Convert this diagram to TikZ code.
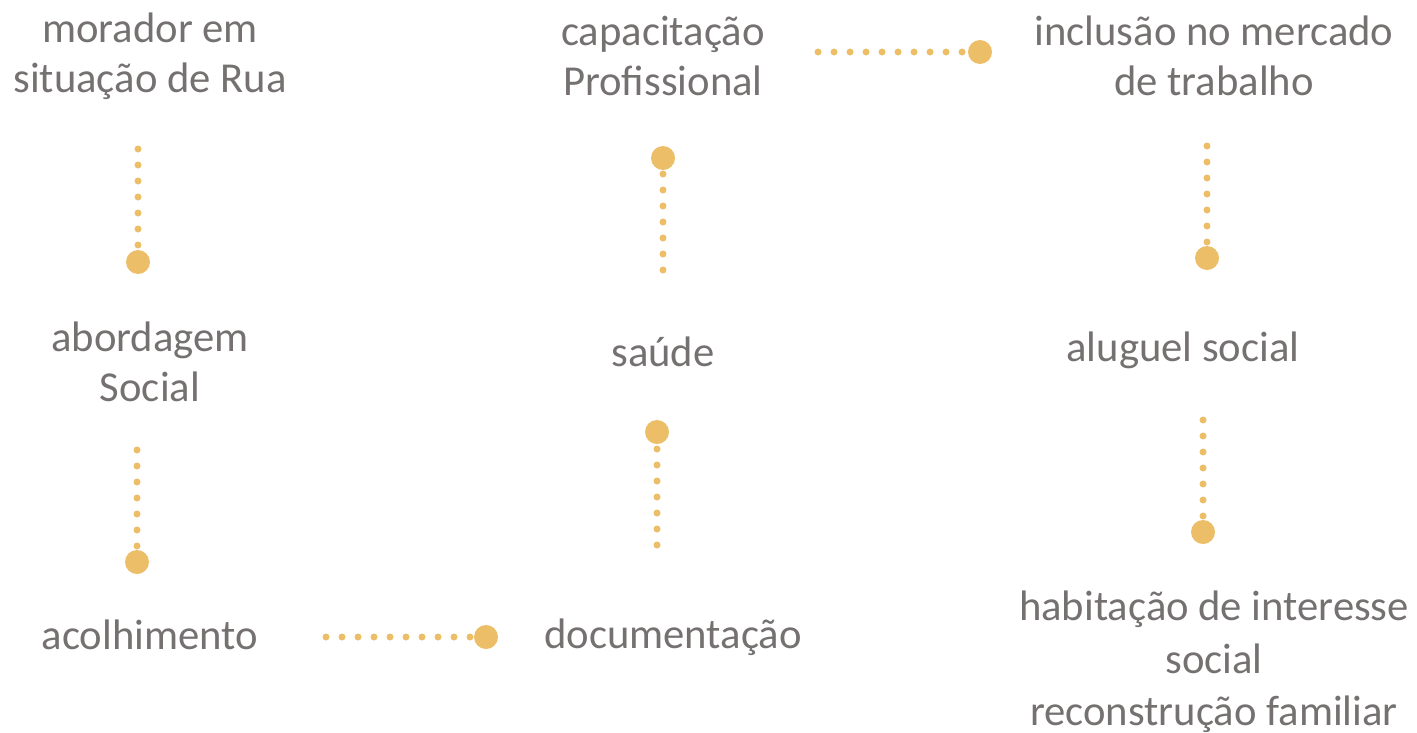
\documentclass[tikz,border=0pt]{standalone}
\usepackage{fontspec}
\setmainfont{Carlito}
\definecolor{txtgray}{RGB}{118,113,113}
\definecolor{gold}{RGB}{236,190,104}
\begin{document}
\begin{tikzpicture}[x=0.75pt, y=-0.75pt,
  label/.style={text=txtgray, align=center, font=\fontsize{32}{37.5}\selectfont, inner sep=0pt},
  bigdot/.style={circle, fill=gold, minimum size=18pt, inner sep=0pt},
  dotline/.style={gold, line width=5.25pt, line cap=round, dash pattern=on 0pt off 12pt}]
\useasboundingbox (0,0) rectangle (1417,732);
\node[label] (morador) at (150,56) {morador em\\situação de Rua};
\node[label] (capac) at (663,56) {capacitação\\Profissional};
\node[label] (inclusao) at (1214,56) {inclusão no mercado\\de trabalho};
\node[label] (abord) at (150,362) {abordagem\\Social};
\node[label] (saude) at (663,352) {saúde};
\node[label] (aluguel) at (1183,350) {aluguel social};
\node[label] (acolh) at (150,635) {acolhimento};
\node[label] (docum) at (673,637) {documentação};
\node[label, font=\fontsize{32}{39.5}\selectfont] (habit) at (1214,662) {habitação de interesse\\social\\reconstrução familiar};
% pontos grandes
\node[bigdot] (d1) at (138,262) {};
\node[bigdot] (d2) at (663,158) {};
\node[bigdot] (d3) at (1207,258) {};
\node[bigdot] (d4) at (980,52) {};
\node[bigdot] (d5) at (137,562) {};
\node[bigdot] (d6) at (657,432) {};
\node[bigdot] (d7) at (1203,532) {};
\node[bigdot] (d8) at (486,637) {};
% pontas livres
\coordinate (s1) at (138,149);
\coordinate (s2) at (663,270);
\coordinate (s3) at (1207,146);
\coordinate (s4) at (818,52);
\coordinate (s5) at (137,450);
\coordinate (s6) at (657,545);
\coordinate (s7) at (1203,420);
\coordinate (s8) at (326,637);
\draw[dotline] (s1) -- (d1.center);
\draw[dotline] (s2) -- (d2.center);
\draw[dotline] (s3) -- (d3.center);
\draw[dotline] (s4) -- (d4.center);
\draw[dotline] (s5) -- (d5.center);
\draw[dotline] (s6) -- (d6.center);
\draw[dotline] (s7) -- (d7.center);
\draw[dotline] (s8) -- (d8.center);
\end{tikzpicture}
\end{document}
